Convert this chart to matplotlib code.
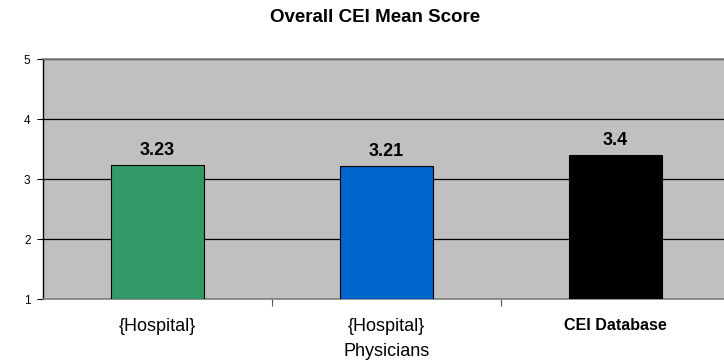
import matplotlib
matplotlib.use("Agg")
import matplotlib.pyplot as plt
import numpy as np

plt.rcParams["font.family"] = ["Liberation Sans", "DejaVu Sans"]

categories = ["{Hospital}", "{Hospital}\nPhysicians", "CEI Database"]
scores = [3.23, 3.21, 3.4]
bar_colors = ["#339966", "#0066CC", "#000000"]

fig = plt.figure(figsize=(7.24, 3.6), dpi=100)
# plot area runs slightly past the right edge of the picture
ax = fig.add_axes([43 / 724, 61 / 360, 687 / 724, 240 / 360])
ax.set_facecolor("#C0C0C0")

x = np.arange(len(categories))
ax.bar(x, np.array(scores) - 1, bottom=1, width=0.41, color=bar_colors,
       edgecolor="black", linewidth=0.8, zorder=3)

for xi, v in zip(x, scores):
    ax.text(xi, v + 0.1, f"{v:g}", ha="center", va="bottom",
            fontsize=13, fontweight="bold", zorder=4)

ax.set_xlim(-0.5, 2.5)
ax.set_ylim(1, 5)
ax.set_yticks([1, 2, 3, 4, 5])
ax.tick_params(axis="y", labelsize=8.5, length=4, width=0.8, pad=5)
ax.yaxis.grid(True, color="black", linewidth=0.9, zorder=1)

# category labels drawn as plain text so the line spacing can be set
ax.set_xticks(x)
ax.set_xticklabels([])
ax.tick_params(axis="x", which="major", length=0)
ax.set_xticks([0.5, 1.5], minor=True)
ax.tick_params(axis="x", which="minor", length=5, width=0.8, color="#555555")

for xi, name in zip(x, categories):
    bold = name == "CEI Database"
    ax.annotate(name, xy=(xi, 0), xycoords=ax.get_xaxis_transform(),
                xytext=(0, -14), textcoords="offset points",
                ha="center", va="top", linespacing=1.6,
                fontsize=11.5 if bold else 13,
                fontweight="bold" if bold else "normal")

ax.spines["right"].set_visible(False)
ax.spines["top"].set_color("#808080")
ax.spines["top"].set_linewidth(1.2)
ax.spines["bottom"].set_color("#808080")
ax.spines["bottom"].set_linewidth(1.2)
ax.spines["left"].set_color("black")
ax.spines["left"].set_linewidth(1.0)

fig.text(375 / 724, 1 - 18 / 360, "Overall CEI Mean Score", ha="center",
         va="center", fontsize=13.5, fontweight="bold")

fig.savefig("out.png", dpi=100)
